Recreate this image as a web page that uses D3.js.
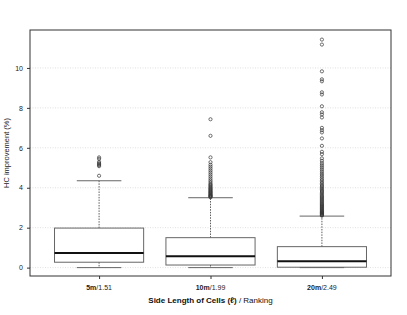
<!DOCTYPE html>
<html>
<head>
<meta charset="utf-8">
<script src="https://cdn.jsdelivr.net/npm/d3@7"></script>
<style>
  body { margin: 0; background: #fff; }
  text { font-family: "Liberation Sans", Arial, sans-serif; }
</style>
</head>
<body>
<div id="chart"></div>
<script>
const WIDTH = 407;
const HEIGHT = 315;

// data
const sizes = ["5m", "10m", "20m"];
const rankings = ["1.51", "1.99", "2.49"];
const q1 = [0.27, 0.13, 0.02];
const medians = [0.73, 0.57, 0.32];
const q3 = [1.98, 1.5, 1.05];
const whiskerLow = [0, 0, 0];
const whiskerHigh = [4.35, 3.5, 2.58];
const outliers = [
  [4.6, 5.08, 5.13, 5.18, 5.23, 5.3, 5.45, 5.52],
  [3.52, 3.55, 3.58, 3.6, 3.63, 3.66, 3.7, 3.73, 3.77, 3.8, 3.84, 3.88, 3.92, 3.96,
   4.0, 4.05, 4.1, 4.15, 4.2, 4.28, 4.36, 4.45, 4.55, 4.65, 4.75, 4.85, 4.95, 5.05,
   5.15, 5.28, 5.52, 6.6, 7.43],
  [2.6, 2.63, 2.66, 2.69, 2.72, 2.75, 2.78, 2.81, 2.84, 2.88, 2.92, 2.96, 3.0, 3.04,
   3.08, 3.12, 3.16, 3.2, 3.25, 3.3, 3.35, 3.4, 3.45, 3.5, 3.55, 3.6, 3.66, 3.72,
   3.78, 3.84, 3.9, 3.96, 4.02, 4.08, 4.15, 4.22, 4.3, 4.38, 4.46, 4.55, 4.64, 4.73,
   4.83, 4.93, 5.03, 5.13, 5.23, 5.35, 5.47, 5.68, 5.8, 6.1, 6.47, 6.77, 6.88, 7.0,
   7.52, 7.67, 7.78, 8.08, 8.67, 8.78, 9.33, 9.43, 9.83, 11.17, 11.42]
];
const yTicks = [0, 2, 4, 6, 8, 10];

const svg = d3.select("#chart").append("svg")
  .attr("width", WIDTH)
  .attr("height", HEIGHT);

const plot = { left: 30, right: 391, top: 30, bottom: 276 };

// R style box positions: 1..n with xlim 0.5..n+0.5 extended 4%
const n = sizes.length;
const x = d3.scaleLinear()
  .domain([0.5 - 0.04 * n, n + 0.5 + 0.04 * n])
  .range([plot.left, plot.right]);
const y = d3.scaleLinear()
  .domain([-0.42, 11.9])
  .range([plot.bottom, plot.top]);

const boxW = (x(1.4) - x(1));

// grid
svg.append("g").selectAll("line")
  .data(yTicks)
  .join("line")
  .attr("x1", plot.left).attr("x2", plot.right)
  .attr("y1", d => y(d)).attr("y2", d => y(d))
  .attr("stroke", "#d8d8d8")
  .attr("stroke-width", 0.8)
  .attr("stroke-dasharray", "1,1.5");

// y axis
const yAxis = svg.append("g")
  .attr("transform", `translate(${plot.left},0)`)
  .call(d3.axisLeft(y).tickValues(yTicks).tickSize(3).tickPadding(4));
yAxis.select(".domain").remove();
yAxis.selectAll("line").attr("stroke", "#333");
yAxis.selectAll("text").style("font-size", "7px").attr("fill", "#222")
  .style("font-family", "'Liberation Sans', Arial, sans-serif");

// x axis
const xAxis = svg.append("g")
  .attr("transform", `translate(0,${plot.bottom})`)
  .call(d3.axisBottom(x).tickValues([1, 2, 3]).tickSize(3).tickFormat(""));
xAxis.select(".domain").remove();
xAxis.selectAll("line").attr("stroke", "#333");

const xlab = svg.append("g").selectAll("text")
  .data(sizes)
  .join("text")
  .attr("x", (d, i) => x(i + 1))
  .attr("y", 290)
  .attr("text-anchor", "middle")
  .style("font-size", "7px")
  .attr("fill", "#222");
xlab.append("tspan").style("font-weight", "bold").text(d => d);
xlab.append("tspan").text((d, i) => "/" + rankings[i]);

// axis titles
const title = svg.append("text")
  .attr("x", (plot.left + plot.right) / 2)
  .attr("y", 303)
  .attr("text-anchor", "middle")
  .style("font-size", "8px")
  .attr("fill", "#111");
title.append("tspan").style("font-weight", "bold").text("Side Length of Cells (ℓ)");
title.append("tspan").text(" / Ranking");

svg.append("text")
  .attr("transform", `translate(9,${(plot.top + plot.bottom) / 2}) rotate(-90)`)
  .attr("text-anchor", "middle")
  .style("font-size", "7.5px")
  .attr("fill", "#222")
  .text("HC improvement (%)");

// boxes
const idx = d3.range(n);
const boxes = svg.append("g").selectAll("g")
  .data(idx)
  .join("g");

boxes.append("line")
  .attr("x1", i => x(i + 1)).attr("x2", i => x(i + 1))
  .attr("y1", i => y(q3[i])).attr("y2", i => y(whiskerHigh[i]))
  .attr("stroke", "#333").attr("stroke-width", 0.8)
  .attr("stroke-dasharray", "1.5,1.2");
boxes.append("line")
  .attr("x1", i => x(i + 1)).attr("x2", i => x(i + 1))
  .attr("y1", i => y(q1[i])).attr("y2", i => y(whiskerLow[i]))
  .attr("stroke", "#333").attr("stroke-width", 0.8)
  .attr("stroke-dasharray", "1.5,1.2");

boxes.append("line")
  .attr("x1", i => x(i + 1) - boxW / 2).attr("x2", i => x(i + 1) + boxW / 2)
  .attr("y1", i => y(whiskerHigh[i])).attr("y2", i => y(whiskerHigh[i]))
  .attr("stroke", "#666").attr("stroke-width", 1);
boxes.append("line")
  .attr("x1", i => x(i + 1) - boxW / 2).attr("x2", i => x(i + 1) + boxW / 2)
  .attr("y1", i => y(whiskerLow[i])).attr("y2", i => y(whiskerLow[i]))
  .attr("stroke", "#666").attr("stroke-width", 1);

boxes.append("rect")
  .attr("x", i => x(i + 1) - boxW)
  .attr("width", boxW * 2)
  .attr("y", i => y(q3[i]))
  .attr("height", i => y(q1[i]) - y(q3[i]))
  .attr("fill", "none")
  .attr("stroke", "#666").attr("stroke-width", 1);

boxes.append("line")
  .attr("x1", i => x(i + 1) - boxW).attr("x2", i => x(i + 1) + boxW)
  .attr("y1", i => y(medians[i])).attr("y2", i => y(medians[i]))
  .attr("stroke", "#111").attr("stroke-width", 2);

boxes.each(function (i) {
  d3.select(this).selectAll("circle")
    .data(outliers[i])
    .join("circle")
    .attr("cx", x(i + 1))
    .attr("cy", d => y(d))
    .attr("r", 1.6)
    .attr("fill", "none")
    .attr("stroke", "#333")
    .attr("stroke-width", 0.7);
});

// frame
svg.append("rect")
  .attr("x", plot.left).attr("y", plot.top)
  .attr("width", plot.right - plot.left)
  .attr("height", plot.bottom - plot.top)
  .attr("fill", "none")
  .attr("stroke", "#333")
  .attr("stroke-width", 1);
</script>
</body>
</html>
